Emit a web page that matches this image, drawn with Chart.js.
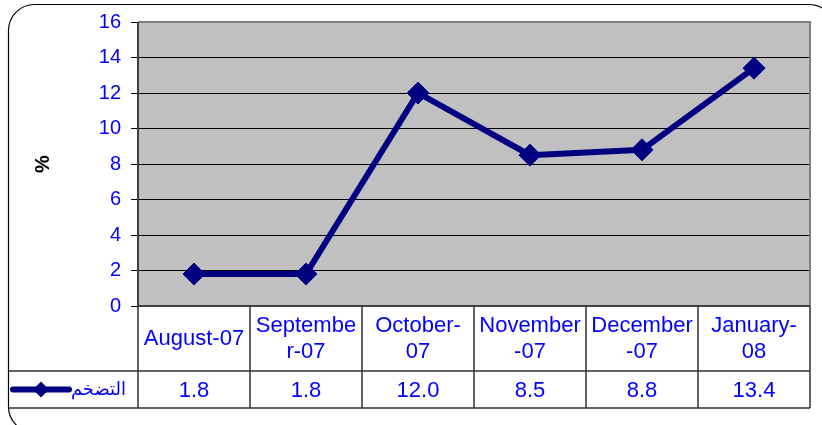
<!DOCTYPE html>
<html>
<head>
<meta charset="utf-8">
<script src="https://cdn.jsdelivr.net/npm/chart.js@4/dist/chart.umd.min.js"></script>
<style>
  html, body { margin: 0; padding: 0; background: #fff; }
  #wrap { width: 822px; height: 425px; position: relative; }
</style>
</head>
<body>
<div id="wrap"><canvas id="inflation_chart" width="822" height="425"></canvas></div>
<script>
// 月ラベル（表示用に改行済み）
const month_labels = [
    ['August-07'],
    ['Septembe', 'r-07'],
    ['October-', '07'],
    ['November', '-07'],
    ['December', '-07'],
    ['January-', '08']
];
const inflation_values = [1.8, 1.8, 12.0, 8.5, 8.8, 13.4];
const series_name = 'التضخم';
const y_ticks = [0, 2, 4, 6, 8, 10, 12, 14, 16];

const navy = '#000080';
const blue = '#0000FF';

// 外枠と下のデータテーブルを描画
const table_plugin = {
    id: 'data_table',
    beforeDraw(chart) {
        const ctx = chart.ctx;
        ctx.save();
        ctx.fillStyle = '#fff';
        ctx.fillRect(0, 0, chart.width, chart.height);
        // 角丸の外枠
        ctx.beginPath();
        ctx.roundRect(8.5, 4.5, 826.5, 428, 26);
        ctx.strokeStyle = '#000';
        ctx.lineWidth = 1.2;
        ctx.stroke();
        // プロットエリア背景
        const a = chart.chartArea;
        ctx.fillStyle = '#C0C0C0';
        ctx.fillRect(a.left, a.top, a.right - a.left, a.bottom - a.top);
        ctx.restore();
    },
    afterDraw(chart) {
        const ctx = chart.ctx;
        const a = chart.chartArea;
        const x = chart.scales.x;
        const row_top = 371;
        const row_bottom = 408;
        const row_mid = (row_top + row_bottom) / 2;
        ctx.save();
        // プロットエリアの枠（上・右）
        ctx.strokeStyle = '#808080';
        ctx.lineWidth = 2;
        ctx.beginPath();
        ctx.moveTo(a.left, a.top);
        ctx.lineTo(a.right, a.top);
        ctx.lineTo(a.right, a.bottom);
        ctx.stroke();
        // 軸線（左・下）
        ctx.strokeStyle = '#404040';
        ctx.beginPath();
        ctx.moveTo(a.left, a.top);
        ctx.lineTo(a.left, a.bottom);
        ctx.lineTo(a.right, a.bottom);
        ctx.stroke();

        // テーブル罫線
        ctx.strokeStyle = '#333';
        ctx.lineWidth = 1.5;
        ctx.beginPath();
        ctx.moveTo(8.5, row_top);
        ctx.lineTo(a.right, row_top);
        ctx.moveTo(8.5, row_bottom);
        ctx.lineTo(a.right, row_bottom);
        const step = x.getPixelForValue(1) - x.getPixelForValue(0);
        for (let i = 0; i <= month_labels.length; i++) {
            const px = i < month_labels.length ? x.getPixelForValue(i) - step / 2 : x.getPixelForValue(i - 1) + step / 2;
            ctx.moveTo(Math.round(px), a.bottom);
            ctx.lineTo(Math.round(px), row_bottom);
        }
        ctx.stroke();

        // 値
        ctx.fillStyle = blue;
        ctx.font = '22px Arial, "Liberation Sans", sans-serif';
        ctx.textAlign = 'center';
        ctx.textBaseline = 'middle';
        inflation_values.forEach(function (v, i) {
            ctx.fillText(v.toFixed(1), x.getPixelForValue(i), row_mid + 1);
        });

        // 凡例マーカー
        ctx.strokeStyle = navy;
        ctx.fillStyle = navy;
        ctx.lineWidth = 6;
        ctx.lineCap = 'round';
        ctx.beginPath();
        ctx.moveTo(13, row_mid);
        ctx.lineTo(69, row_mid);
        ctx.stroke();
        ctx.beginPath();
        ctx.moveTo(41 - 8, row_mid);
        ctx.lineTo(41, row_mid - 8);
        ctx.lineTo(41 + 8, row_mid);
        ctx.lineTo(41, row_mid + 8);
        ctx.closePath();
        ctx.fill();
        // 系列名
        ctx.fillStyle = blue;
        ctx.font = '18px "DejaVu Sans", Arial, sans-serif';
        ctx.textAlign = 'right';
        ctx.fillText(series_name, 126, row_mid + 1);
        ctx.restore();
    }
};

const inflation_chart = new Chart(document.getElementById('inflation_chart').getContext('2d'), {
    type: 'line',
    data: {
        labels: month_labels,
        datasets: [{
            label: series_name,
            data: inflation_values,
            borderColor: navy,
            backgroundColor: navy,
            borderWidth: 6,
            pointStyle: 'rectRot',
            pointRadius: 11,
            pointHoverRadius: 11,
            pointBorderWidth: 1,
            tension: 0
        }]
    },
    options: {
        responsive: false,
        animation: false,
        layout: { padding: { left: 20, top: 22, right: 11, bottom: 54 } },
        plugins: {
            legend: { display: false },
            tooltip: { enabled: false }
        },
        scales: {
            x: {
                offset: true,
                grid: { display: false, drawTicks: false },
                border: { display: false },
                ticks: {
                    color: blue,
                    font: { family: 'Arial, "Liberation Sans", sans-serif', size: 22, lineHeight: 1.18 },
                    padding: 20,
                    maxRotation: 0,
                    autoSkip: false,
                    crossAlign: 'center'
                },
                afterFit(scale) { scale.height = 65; }
            },
            y: {
                min: 0,
                max: 16,
                afterBuildTicks(scale) {
                    scale.ticks = y_ticks.map(function (v) { return { value: v }; });
                },
                grid: { color: '#000', lineWidth: 1, tickLength: 7, tickColor: '#000' },
                border: { display: false },
                ticks: {
                    color: blue,
                    font: { family: 'Arial, "Liberation Sans", sans-serif', size: 20 },
                    padding: 10
                },
                title: {
                    display: true,
                    text: '%',
                    color: '#000',
                    font: { family: 'Arial, "Liberation Sans", sans-serif', size: 20, weight: 'bold' },
                    padding: { top: 11, bottom: 0 }
                },
                afterFit(scale) { scale.width = 118; }
            }
        }
    },
    plugins: [table_plugin]
});
</script>
</body>
</html>
